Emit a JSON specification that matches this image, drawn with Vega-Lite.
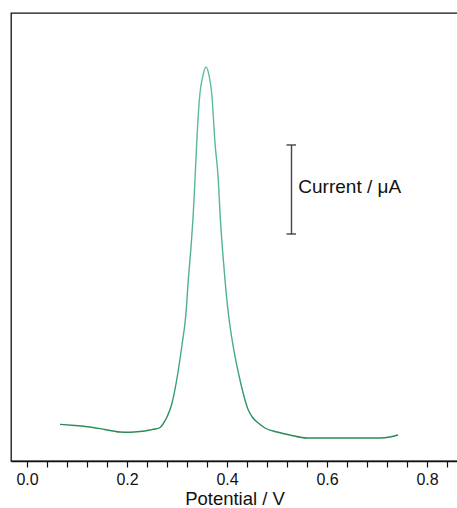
{
  "$schema": "https://vega.github.io/schema/vega-lite/v6.json",
  "width": 447,
  "height": 448,
  "autosize": {"type": "none"},
  "padding": {"left": 11, "top": 13, "right": 0, "bottom": 47},
  "background": "white",
  "config": {
    "view": {"stroke": "#111", "strokeWidth": 1.3},
    "font": "Liberation Sans"
  },
  "datasets": {
    "curve": [
      {"potential": 0.066, "current": 0.819},
      {"potential": 0.096, "current": 0.792},
      {"potential": 0.126, "current": 0.759},
      {"potential": 0.156, "current": 0.703},
      {"potential": 0.186, "current": 0.647},
      {"potential": 0.206, "current": 0.641},
      {"potential": 0.226, "current": 0.658},
      {"potential": 0.246, "current": 0.692},
      {"potential": 0.256, "current": 0.714},
      {"potential": 0.266, "current": 0.748},
      {"potential": 0.272, "current": 0.826},
      {"potential": 0.280, "current": 0.982},
      {"potential": 0.289, "current": 1.250},
      {"potential": 0.2994, "current": 1.808},
      {"potential": 0.3094, "current": 2.545},
      {"potential": 0.318, "current": 3.304},
      {"potential": 0.3226, "current": 4.040},
      {"potential": 0.328, "current": 4.777},
      {"potential": 0.3326, "current": 5.536},
      {"potential": 0.336, "current": 6.272},
      {"potential": 0.3394, "current": 7.098},
      {"potential": 0.346, "current": 8.214},
      {"potential": 0.3514, "current": 8.578},
      {"potential": 0.358, "current": 8.795},
      {"potential": 0.3646, "current": 8.578},
      {"potential": 0.3694, "current": 8.214},
      {"potential": 0.376, "current": 7.098},
      {"potential": 0.3826, "current": 6.272},
      {"potential": 0.386, "current": 5.536},
      {"potential": 0.3906, "current": 4.777},
      {"potential": 0.396, "current": 4.040},
      {"potential": 0.4026, "current": 3.304},
      {"potential": 0.4126, "current": 2.545},
      {"potential": 0.426, "current": 1.808},
      {"potential": 0.4426, "current": 1.138},
      {"potential": 0.452, "current": 0.960},
      {"potential": 0.4626, "current": 0.848},
      {"potential": 0.476, "current": 0.737},
      {"potential": 0.500, "current": 0.647},
      {"potential": 0.526, "current": 0.580},
      {"potential": 0.560, "current": 0.513},
      {"potential": 0.630, "current": 0.513},
      {"potential": 0.706, "current": 0.513},
      {"potential": 0.726, "current": 0.536},
      {"potential": 0.742, "current": 0.580}
    ],
    "bar": [{"x": 0.529, "y1": 5.067, "y2": 7.054}],
    "caps": [
      {"x1": 0.519, "x2": 0.538, "y": 7.054},
      {"x1": 0.519, "x2": 0.538, "y": 5.067}
    ],
    "label": [{"x": 0.5426, "y": 5.98, "text": "Current / μA"}]
  },
  "layer": [
    {
      "data": {"name": "curve"},
      "mark": {
        "type": "line",
        "strokeWidth": 1.4,
        "interpolate": "monotone",
        "color": {
          "gradient": "linear",
          "x1": 0, "y1": 0, "x2": 0, "y2": 1,
          "stops": [
            {"offset": 0, "color": "#5cbea0"},
            {"offset": 0.75, "color": "#4aae88"},
            {"offset": 0.92, "color": "#2f9462"},
            {"offset": 1, "color": "#2a8753"}
          ]
        }
      },
      "encoding": {
        "x": {
          "field": "potential", "type": "quantitative",
          "scale": {"domain": [-0.032, 0.862], "nice": false, "zero": false},
          "axis": {
            "title": "Potential / V",
            "titleFontSize": 18.5,
            "titleFontWeight": "normal",
            "titleColor": "#111",
            "titlePadding": 2,
            "values": [0.0, 0.04, 0.08, 0.12, 0.16, 0.2, 0.24, 0.28, 0.32, 0.36, 0.4, 0.44, 0.48, 0.52, 0.56, 0.6, 0.64, 0.68, 0.72, 0.76, 0.8, 0.84],
            "tickCount": 100,
            "labelExpr": "abs(datum.value*5 - round(datum.value*5)) < 0.001 ? format(datum.value, '.1f') : ''",
            "labelFontSize": 16,
            "labelColor": "#111",
            "labelPadding": 4,
            "tickSize": 6,
            "tickColor": "#111",
            "tickWidth": 1.2,
            "domainColor": "#111",
            "domainWidth": 1.3,
            "grid": false,
            "labelFlush": false,
            "labelOverlap": false,
            "encode": {
              "ticks": {
                "update": {
                  "y2": {"signal": "abs(datum.value*5 - round(datum.value*5)) < 0.001 ? 6 : -3"}
                }
              }
            }
          }
        },
        "y": {
          "field": "current", "type": "quantitative",
          "scale": {"domain": [0, 10], "nice": false},
          "axis": null
        }
      }
    },
    {
      "data": {"name": "bar"},
      "mark": {"type": "rule", "color": "#444", "strokeWidth": 1.4},
      "encoding": {
        "x": {"field": "x", "type": "quantitative"},
        "y": {"field": "y1", "type": "quantitative"},
        "y2": {"field": "y2"}
      }
    },
    {
      "data": {"name": "caps"},
      "mark": {"type": "rule", "color": "#444", "strokeWidth": 1.4},
      "encoding": {
        "x": {"field": "x1", "type": "quantitative"},
        "x2": {"field": "x2"},
        "y": {"field": "y", "type": "quantitative"}
      }
    },
    {
      "data": {"name": "label"},
      "mark": {"type": "text", "align": "left", "baseline": "alphabetic", "fontSize": 19, "color": "#111"},
      "encoding": {
        "x": {"field": "x", "type": "quantitative"},
        "y": {"field": "y", "type": "quantitative"},
        "text": {"field": "text"}
      }
    }
  ]
}
